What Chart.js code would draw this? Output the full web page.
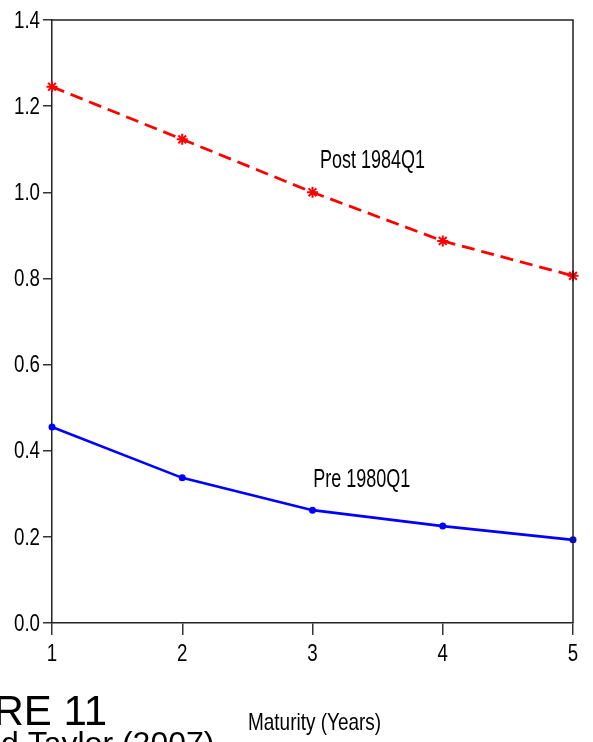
<!DOCTYPE html>
<html>
<head>
<meta charset="utf-8">
<script src="https://cdn.jsdelivr.net/npm/chart.js@4/dist/chart.umd.min.js"></script>
<style>
html,body{margin:0;padding:0;background:#fff;}
#wrap{width:593px;height:742px;position:relative;}
</style>
</head>
<body>
<div id="wrap"><canvas id="c" width="593" height="742"></canvas></div>
<script>
const maturities = [1, 2, 3, 4, 5];
const post1984 = [1.245, 1.123, 1.000, 0.887, 0.806];
const pre1980 = [0.455, 0.337, 0.262, 0.225, 0.193];
const yTicks = [0.0, 0.2, 0.4, 0.6, 0.8, 1.0, 1.2, 1.4];
const seriesLabels = ['Post 1984Q1', 'Pre 1980Q1'];
const xTitle = 'Maturity (Years)';
const figureTitle = 'RE 11';
const figureSource = 'd Taylor (2007)';

const SANS = '"Liberation Sans", Arial, sans-serif';

// draw text horizontally condensed (the original uses a narrow face)
function narrowText(ctx, text, x, y, size, sx, sy, align, baseline) {
  ctx.save();
  ctx.translate(x, y);
  ctx.scale(sx, sy);
  ctx.font = size + 'px ' + SANS;
  ctx.textAlign = align;
  ctx.textBaseline = baseline;
  ctx.fillText(text, 0, 0);
  ctx.restore();
}

const framePlugin = {
  id: 'frame',
  afterDraw(chart) {
    const {ctx, chartArea: a} = chart;
    const xs = chart.scales.x, ys = chart.scales.y;
    ctx.save();
    ctx.strokeStyle = '#222';
    ctx.lineWidth = 1.5;
    ctx.beginPath();
    ctx.moveTo(a.left, a.top);
    ctx.lineTo(a.right, a.top);
    ctx.lineTo(a.right, a.bottom);
    ctx.stroke();
    ctx.fillStyle = '#000';

    // tick labels
    yTicks.forEach(v => {
      narrowText(ctx, v.toFixed(1), a.left - 12, ys.getPixelForValue(v) + 1, 24, 0.78, 1.02, 'right', 'middle');
    });
    maturities.forEach(v => {
      narrowText(ctx, String(v), xs.getPixelForValue(v), a.bottom + 19, 24, 0.78, 1.02, 'center', 'top');
    });

    // in-plot series labels, anchored to data positions
    narrowText(ctx, seriesLabels[0], xs.getPixelForValue(3.058), ys.getPixelForValue(1.0564), 24, 0.75, 1.05, 'left', 'alphabetic');
    narrowText(ctx, seriesLabels[1], xs.getPixelForValue(3.005), ys.getPixelForValue(0.3158), 24, 0.75, 1.05, 'left', 'alphabetic');

    // axis title
    narrowText(ctx, xTitle, 248, 730, 24, 0.79, 1.0, 'left', 'alphabetic');

    // figure caption fragments
    ctx.font = '42px ' + SANS;
    ctx.textAlign = 'right';
    ctx.textBaseline = 'alphabetic';
    ctx.fillText(figureTitle, 107, 725);
    ctx.textAlign = 'left';
    ctx.font = '32px ' + SANS;
    ctx.fillText(figureSource, 1, 754);
    ctx.restore();
  }
};

new Chart(document.getElementById('c'), {
  type: 'line',
  data: {
    datasets: [
      {
        label: seriesLabels[0],
        data: maturities.map((m, i) => ({x: m, y: post1984[i]})),
        borderColor: '#ff0000',
        backgroundColor: '#ff0000',
        borderWidth: 2.8,
        borderDash: [13, 7],
        pointStyle: 'star',
        pointRadius: 5.5,
        pointBorderWidth: 2,
        pointBorderColor: '#ff0000',
        tension: 0,
        fill: false,
        clip: false
      },
      {
        label: seriesLabels[1],
        data: maturities.map((m, i) => ({x: m, y: pre1980[i]})),
        borderColor: '#0000ff',
        backgroundColor: '#0000ff',
        borderWidth: 2.6,
        pointStyle: 'circle',
        pointRadius: 3.5,
        pointBorderWidth: 0,
        tension: 0,
        fill: false,
        clip: false
      }
    ]
  },
  options: {
    responsive: false,
    animation: false,
    layout: {padding: {top: 20, right: 20, left: 0, bottom: 0}},
    plugins: {legend: {display: false}, tooltip: {enabled: false}},
    scales: {
      x: {
        type: 'linear',
        min: 1, max: 5,
        afterFit(s) { s.height = 119; },
        afterBuildTicks(s) { s.ticks = maturities.map(v => ({value: v})); },
        grid: {drawOnChartArea: false, drawTicks: true, tickLength: 12, color: '#333', lineWidth: 1.5},
        border: {display: true, color: '#222', width: 1.5},
        ticks: {display: false}
      },
      y: {
        min: 0, max: 1.4,
        afterFit(s) { s.width = 52; },
        afterBuildTicks(s) { s.ticks = yTicks.map(v => ({value: v})); },
        grid: {drawOnChartArea: false, drawTicks: true, tickLength: 9, color: '#333', lineWidth: 1.5},
        border: {display: true, color: '#222', width: 1.5},
        ticks: {display: false}
      }
    }
  },
  plugins: [framePlugin]
});
</script>
</body>
</html>
